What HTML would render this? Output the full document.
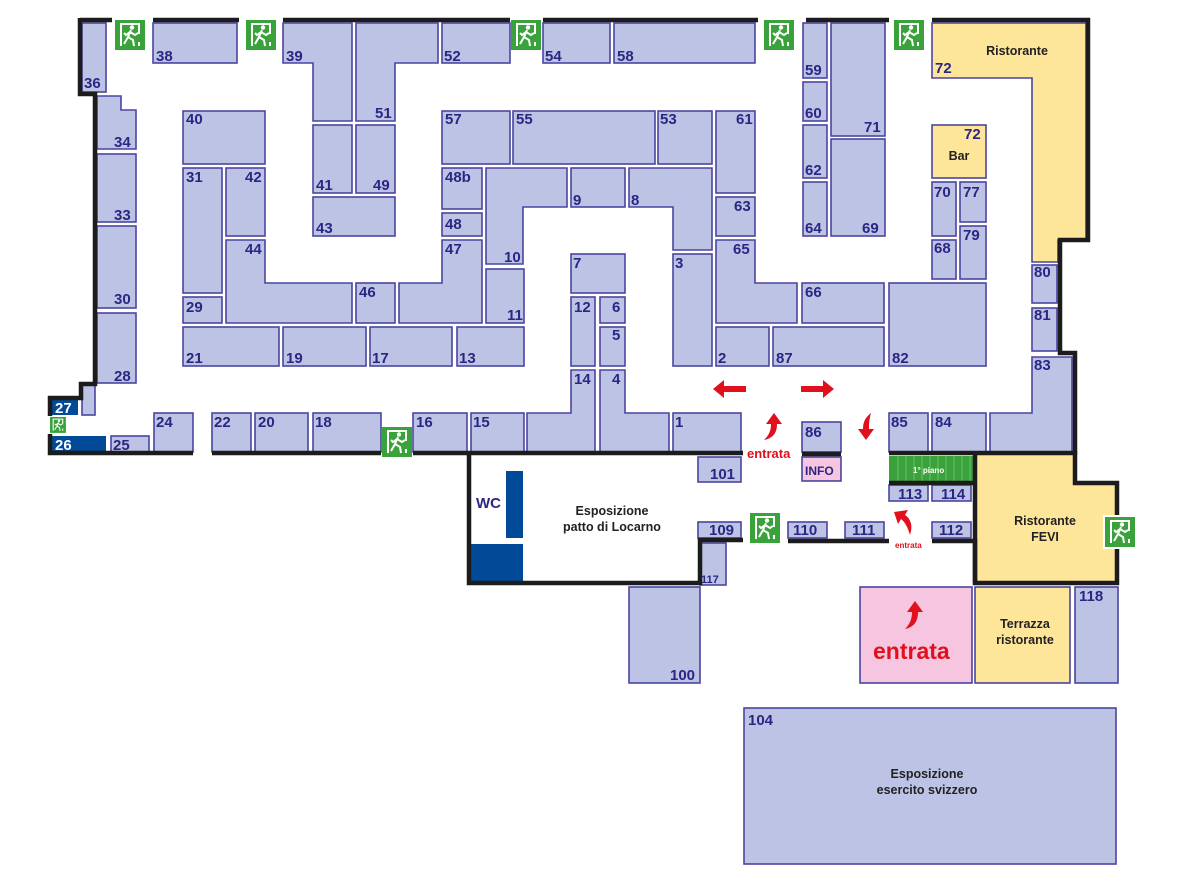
<!DOCTYPE html>
<html><head><meta charset="utf-8"><style>
html,body{margin:0;padding:0;background:#fff;}
svg{display:block}
.b{fill:#bcc3e5;stroke:#4b45a0;stroke-width:1.6}
.y{fill:#fde59a;stroke:#4b45a0;stroke-width:1.6}
.l{font-family:"Liberation Sans",sans-serif;font-weight:bold;font-size:15px;fill:#2b2683}
.s{font-size:12px}
.t{font-family:"Liberation Sans",sans-serif;font-weight:bold;font-size:12.5px;fill:#222}
.w{fill:none;stroke:#1c1c1c;stroke-width:4.5;stroke-linejoin:miter}
.r{font-family:"Liberation Sans",sans-serif;font-weight:bold;fill:#e0101c}
</style></head><body>
<svg width="1181" height="894" viewBox="0 0 1181 894" xmlns="http://www.w3.org/2000/svg">
<defs>
<g id="ex">
<rect x="0" y="0" width="30" height="30" fill="#3aa23a"/>
<path d="M6 26 V4 H24 V14 M24 22 V26" stroke="#fff" stroke-width="2" fill="none"/>
<circle cx="17" cy="7.5" r="2.2" fill="#fff"/>
<path d="M16 10 L13 17 L9 24 M13 17 L18 20 L19 26 M15 12 L20 15 L23 13 M15 12 L11 15 L9 13" stroke="#fff" stroke-width="2" fill="none"/>
</g>
</defs>

<polygon class="y" points="932,23 1086,23 1086,240 1058,240 1058,262 1032,262 1032,78 932,78"/>
<rect class="y" x="932" y="125" width="54" height="53"/>
<polygon class="y" points="975,455 1075,455 1075,483 1117,483 1117,583 975,583" style="stroke:none"/>
<rect class="y" x="975" y="587" width="95" height="96"/>
<rect x="860" y="587" width="112" height="96" fill="#f6c6e0" stroke="#4b45a0" stroke-width="1.6"/>

<rect class="b" x="82" y="23" width="24" height="69"/>
<rect class="b" x="153" y="23" width="84" height="40"/>
<polygon class="b" points="283,23 352,23 352,121 313,121 313,63 283,63"/>
<polygon class="b" points="356,23 438,23 438,63 395,63 395,121 356,121"/>
<rect class="b" x="442" y="23" width="68" height="40"/>
<rect class="b" x="543" y="23" width="67" height="40"/>
<rect class="b" x="614" y="23" width="141" height="40"/>
<rect class="b" x="803" y="23" width="24" height="55"/>
<rect class="b" x="803" y="82" width="24" height="39"/>
<rect class="b" x="803" y="125" width="24" height="53"/>
<rect class="b" x="803" y="182" width="24" height="54"/>
<rect class="b" x="831" y="23" width="54" height="113"/>
<rect class="b" x="831" y="139" width="54" height="97"/>
<polygon class="b" points="97,96 121,96 121,110 136,110 136,149 97,149"/>
<rect class="b" x="97" y="154" width="39" height="68"/>
<rect class="b" x="97" y="226" width="39" height="82"/>
<rect class="b" x="97" y="313" width="39" height="70"/>
<rect class="b" x="82" y="385" width="13" height="30"/>
<rect x="50" y="398" width="28" height="17" fill="#004a98"/>
<rect x="50" y="436" width="56" height="16" fill="#004a98"/>
<rect class="b" x="111" y="436" width="38" height="16"/>
<rect class="b" x="154" y="413" width="39" height="39"/>
<rect class="b" x="212" y="413" width="39" height="39"/>
<rect class="b" x="255" y="413" width="53" height="39"/>
<rect class="b" x="313" y="413" width="68" height="39"/>
<rect class="b" x="413" y="413" width="54" height="39"/>
<rect class="b" x="471" y="413" width="53" height="39"/>
<rect class="b" x="183" y="111" width="82" height="53"/>
<rect class="b" x="183" y="168" width="39" height="125"/>
<rect class="b" x="226" y="168" width="39" height="68"/>
<rect class="b" x="183" y="297" width="39" height="26"/>
<polygon class="b" points="226,240 265,240 265,283 352,283 352,323 226,323"/>
<rect class="b" x="356" y="283" width="39" height="40"/>
<polygon class="b" points="399,283 442,283 442,240 482,240 482,323 399,323"/>
<rect class="b" x="313" y="125" width="39" height="68"/>
<rect class="b" x="356" y="125" width="39" height="68"/>
<rect class="b" x="313" y="197" width="82" height="39"/>
<rect class="b" x="442" y="111" width="68" height="53"/>
<rect class="b" x="442" y="168" width="40" height="41"/>
<rect class="b" x="442" y="213" width="40" height="23"/>
<polygon class="b" points="486,168 567,168 567,207 523,207 523,264 486,264"/>
<rect class="b" x="486" y="269" width="38" height="54"/>
<rect class="b" x="183" y="327" width="96" height="39"/>
<rect class="b" x="283" y="327" width="83" height="39"/>
<rect class="b" x="370" y="327" width="82" height="39"/>
<rect class="b" x="457" y="327" width="67" height="39"/>
<rect class="b" x="513" y="111" width="142" height="53"/>
<rect class="b" x="658" y="111" width="54" height="53"/>
<rect class="b" x="716" y="111" width="39" height="82"/>
<rect class="b" x="571" y="168" width="54" height="39"/>
<polygon class="b" points="629,168 712,168 712,250 673,250 673,207 629,207"/>
<rect class="b" x="716" y="197" width="39" height="39"/>
<polygon class="b" points="716,240 755,240 755,283 797,283 797,323 716,323"/>
<rect class="b" x="673" y="254" width="39" height="112"/>
<rect class="b" x="571" y="254" width="54" height="39"/>
<rect class="b" x="571" y="297" width="24" height="69"/>
<rect class="b" x="600" y="297" width="25" height="26"/>
<rect class="b" x="600" y="327" width="25" height="39"/>
<polygon class="b" points="571,370 595,370 595,452 527,452 527,413 571,413"/>
<polygon class="b" points="600,370 625,370 625,413 669,413 669,452 600,452"/>
<rect class="b" x="673" y="413" width="68" height="39"/>
<rect class="b" x="716" y="327" width="53" height="39"/>
<rect class="b" x="773" y="327" width="111" height="39"/>
<rect class="b" x="802" y="283" width="82" height="40"/>
<rect class="b" x="889" y="283" width="97" height="83"/>
<rect class="b" x="932" y="182" width="24" height="54"/>
<rect class="b" x="960" y="182" width="26" height="40"/>
<rect class="b" x="932" y="240" width="24" height="39"/>
<rect class="b" x="960" y="226" width="26" height="53"/>
<rect class="b" x="1032" y="265" width="25" height="38"/>
<rect class="b" x="1032" y="308" width="25" height="43"/>
<polygon class="b" points="1032,357 1072,357 1072,452 990,452 990,413 1032,413"/>
<rect class="b" x="889" y="413" width="39" height="39"/>
<rect class="b" x="932" y="413" width="54" height="39"/>
<rect class="b" x="802" y="422" width="39" height="30"/>
<rect x="802" y="457" width="39" height="24" fill="#f6c6e0" stroke="#4b45a0" stroke-width="1.6"/>
<rect class="b" x="698" y="457" width="43" height="25"/>
<rect class="b" x="698" y="522" width="43" height="16"/>
<rect class="b" x="700" y="543" width="26" height="42"/>
<rect class="b" x="629" y="587" width="71" height="96"/>
<rect class="b" x="788" y="522" width="39" height="16"/>
<rect class="b" x="845" y="522" width="39" height="16"/>
<rect class="b" x="932" y="522" width="39" height="16"/>
<rect class="b" x="889" y="485" width="39" height="16"/>
<rect class="b" x="932" y="485" width="39" height="16"/>
<rect class="b" x="1075" y="587" width="43" height="96"/>
<rect class="b" x="744" y="708" width="372" height="156"/>
<rect x="889" y="456" width="86" height="26" fill="#3aa23a"/>
<g stroke="#7cc57c" stroke-width="0.8">
<line x1="898" y1="456" x2="898" y2="482"/><line x1="906" y1="456" x2="906" y2="482"/><line x1="914" y1="456" x2="914" y2="482"/><line x1="922" y1="456" x2="922" y2="482"/><line x1="930" y1="456" x2="930" y2="482"/><line x1="938" y1="456" x2="938" y2="482"/><line x1="946" y1="456" x2="946" y2="482"/><line x1="954" y1="456" x2="954" y2="482"/><line x1="962" y1="456" x2="962" y2="482"/><line x1="970" y1="456" x2="970" y2="482"/>
</g>
<text x="913" y="473" font-family="Liberation Sans,sans-serif" font-size="8" font-weight="bold" fill="#fff">1° piano</text>
<rect x="506" y="471" width="17" height="67" fill="#004a98"/>
<rect x="471" y="544" width="52" height="39" fill="#004a98"/>

<path class="w" d="M80 20 H112 M153 20 H239 M283 20 H510 M543 20 H758 M806 20 H889"/>
<path class="w" d="M932 20 H1088 V240 H1060 V353 H1075 V455"/>
<path class="w" d="M80 18 V94 H95 V384 H81 V398 H50 V416"/>
<path class="w" d="M50 434 V453 H193 M212 453 H381 M413 453 H743"/>
<path class="w" d="M469 453 V583 H700 V540 H743"/>
<path class="w" d="M788 541 H889 M932 541 H975 V583 H1117 V483 H1075 V453 H889"/>
<path class="w" d="M889 483 H975 M975 453 V583 M802 454 H841"/>

<use href="#ex" x="115" y="20"/>
<use href="#ex" x="246" y="20"/>
<use href="#ex" x="511" y="20"/>
<use href="#ex" x="764" y="20"/>
<use href="#ex" x="894" y="20"/>
<use href="#ex" x="382" y="427"/>
<use href="#ex" x="750" y="513"/>
<rect x="1103" y="515" width="34" height="34" fill="#fff"/>
<use href="#ex" x="1105" y="517"/>
<use href="#ex" transform="translate(50,417) scale(0.53)"/>

<path d="M713 389 L724 380 V386 H746 V392 H724 V398 Z" fill="#e0101c"/>
<path d="M834 389 L823 380 V386 H801 V392 H823 V398 Z" fill="#e0101c"/>
<path d="M774 413 L766 424 H771 C771 432 768 436 764 440 C774 438 777 432 777 424 H782 Z" fill="#e0101c"/>
<path d="M866 440 L858 429 H863 C863 421 866 417 871 413 C869 420 869 425 869 429 H874 Z" fill="#e0101c"/>
<path d="M894 512 L908 510 L905 515 C911 519 913 526 910 535 C908 528 905 522 901 519 L898 524 Z" fill="#e0101c"/>
<path d="M915 601 L907 612 H912 C912 620 909 625 905 629 C915 627 918 620 918 612 H923 Z" fill="#e0101c"/>
<text class="r" x="747" y="458" font-size="13">entrata</text>
<text class="r" x="895" y="548" font-size="8">entrata</text>
<text class="r" x="873" y="659" font-size="23">entrata</text>

<g class="l">
<text x="84" y="88">36</text><text x="156" y="61">38</text><text x="286" y="61">39</text><text x="375" y="118">51</text><text x="444" y="61">52</text><text x="545" y="61">54</text><text x="617" y="61">58</text>
<text x="805" y="75">59</text><text x="805" y="118">60</text><text x="805" y="175">62</text><text x="805" y="233">64</text><text x="864" y="132">71</text><text x="862" y="233">69</text>
<text x="935" y="73">72</text><text x="964" y="139">72</text>
<text x="114" y="147">34</text><text x="114" y="220">33</text><text x="114" y="304">30</text><text x="114" y="381">28</text>
<text x="55" y="413" fill="#fff">27</text><text x="55" y="450" fill="#fff">26</text><text x="113" y="450">25</text>
<text x="156" y="427">24</text><text x="214" y="427">22</text><text x="258" y="427">20</text><text x="315" y="427">18</text><text x="416" y="427">16</text><text x="473" y="427">15</text>
<text x="186" y="124">40</text><text x="186" y="182">31</text><text x="245" y="182">42</text><text x="186" y="312">29</text><text x="245" y="254">44</text><text x="359" y="297">46</text>
<text x="316" y="190">41</text><text x="373" y="190">49</text><text x="316" y="233">43</text>
<text x="186" y="363">21</text><text x="286" y="363">19</text><text x="372" y="363">17</text><text x="459" y="363">13</text>
<text x="445" y="124">57</text><text x="445" y="182">48b</text><text x="445" y="229">48</text><text x="445" y="254">47</text><text x="504" y="262">10</text><text x="507" y="320">11</text>
<text x="516" y="124">55</text><text x="660" y="124">53</text><text x="736" y="124">61</text><text x="573" y="205">9</text><text x="631" y="205">8</text><text x="734" y="211">63</text><text x="733" y="254">65</text>
<text x="573" y="268">7</text><text x="675" y="268">3</text><text x="574" y="312">12</text><text x="612" y="312">6</text><text x="612" y="340">5</text><text x="574" y="384">14</text><text x="612" y="384">4</text>
<text x="675" y="427">1</text><text x="718" y="363">2</text><text x="776" y="363">87</text><text x="805" y="297">66</text><text x="892" y="363">82</text>
<text x="1034" y="277">80</text><text x="1034" y="320">81</text><text x="1034" y="370">83</text>
<text x="891" y="427">85</text><text x="935" y="427">84</text><text x="805" y="437">86</text>
<text x="934" y="197">70</text><text x="963" y="197">77</text><text x="934" y="253">68</text><text x="963" y="240">79</text>
<text x="710" y="479">101</text><text x="709" y="535">109</text><text x="701" y="583" style="font-size:11px">117</text><text x="670" y="680">100</text>
<text x="793" y="535">110</text><text x="852" y="535">111</text><text x="939" y="535">112</text><text x="898" y="499">113</text><text x="941" y="499">114</text>
<text x="1079" y="601">118</text><text x="748" y="725">104</text>
<text x="805" y="475" style="font-size:12px">INFO</text>
<text x="476" y="508">WC</text>
</g>
<g class="t" text-anchor="middle">
<text x="1017" y="55">Ristorante</text>
<text x="959" y="160">Bar</text>
<text x="612" y="515">Esposizione</text><text x="612" y="531">patto di Locarno</text>
<text x="1045" y="525">Ristorante</text><text x="1045" y="541">FEVI</text>
<text x="1025" y="628">Terrazza</text><text x="1025" y="644">ristorante</text>
<text x="927" y="778">Esposizione</text><text x="927" y="794">esercito svizzero</text>
</g>
</svg>
</body></html>
